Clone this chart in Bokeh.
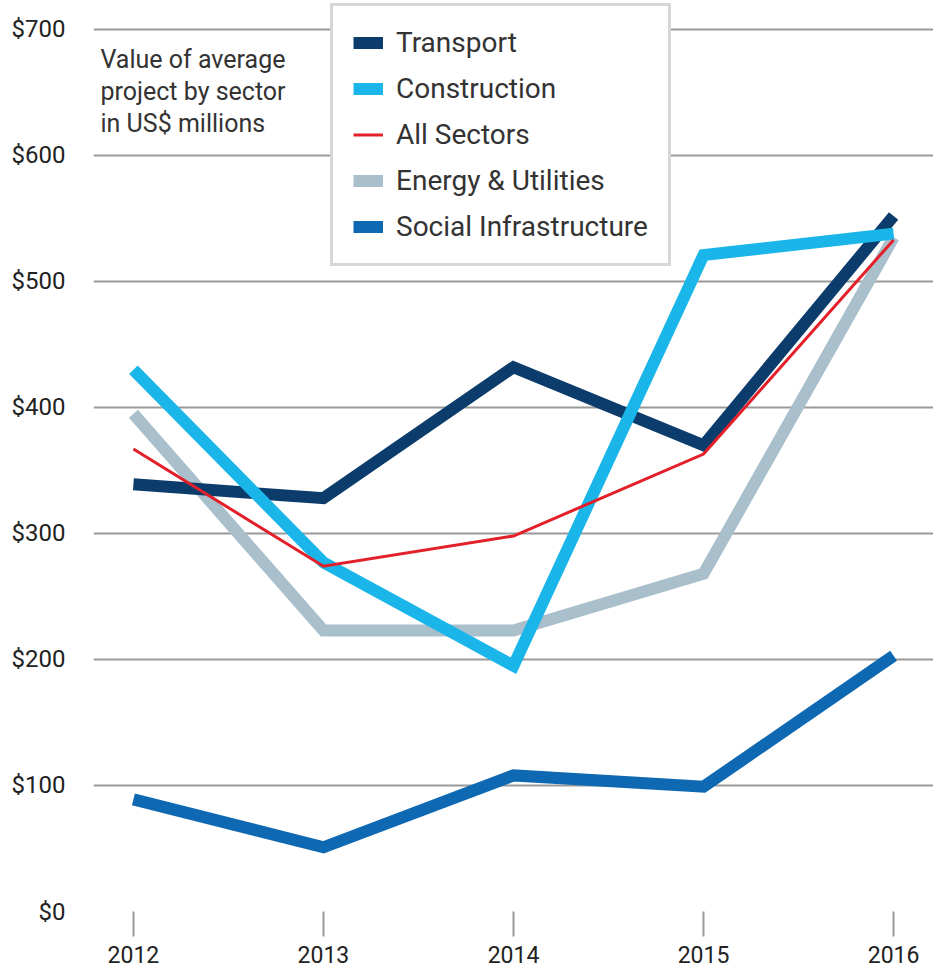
from bokeh.plotting import figure
from bokeh.models import Legend, LegendItem, Label, FixedTicker, Range1d, CustomJSTickFormatter
from bokeh.embed import file_html
from bokeh.resources import INLINE

years = [2012, 2013, 2014, 2015, 2016]
transport = [339, 328, 432, 370, 552]
construction = [430, 277, 195, 521, 538]
all_sectors = [367, 274, 298, 363, 533]
energy = [395, 223, 223, 268, 535]
social = [89, 51, 108, 99, 203]
y_ticks = [0, 100, 200, 300, 400, 500, 600, 700]
note_lines = ["Value of average", "project by sector", "in US$ millions"]

FONT = "Roboto"

p = figure(width=933, height=974, output_backend="svg", toolbar_location=None,
           x_range=Range1d(2011.79, 2016.21), y_range=Range1d(0, 723),
           min_border_left=93, min_border_right=0, min_border_top=0, min_border_bottom=63)
p.outline_line_color = None
p.background_fill_color = "white"
p.border_fill_color = "white"

series = [
    ("Energy & Utilities", energy, "#a9bfcc", 12),
    ("Social Infrastructure", social, "#0f69b2", 12),
    ("Transport", transport, "#0c3c6c", 12),
    ("Construction", construction, "#1bb6e9", 12),
    ("All Sectors", all_sectors, "#e3202a", 3),
]
rends = {}
for name, vals, col, w in series:
    rends[name] = p.line(years, vals, line_color=col, line_width=w, line_cap="butt", line_join="miter")

# axes
p.xaxis.ticker = FixedTicker(ticks=years)
p.xaxis.axis_line_color = None
p.xaxis.major_tick_out = 25
p.xaxis.major_tick_in = 0
p.xaxis.major_tick_line_color = "#9a9a9a"
p.xaxis.major_tick_line_width = 2
p.xaxis.minor_tick_line_color = None
p.xaxis.major_label_standoff = 9
p.xaxis.major_label_text_font = FONT
p.xaxis.major_label_text_font_size = "23px"
p.xaxis.major_label_text_color = "#222222"

p.yaxis.ticker = FixedTicker(ticks=y_ticks)
p.yaxis.formatter = CustomJSTickFormatter(code="return '$' + tick;")
p.yaxis.axis_line_color = None
p.yaxis.major_tick_line_color = None
p.yaxis.minor_tick_line_color = None
p.yaxis.major_label_standoff = 22
p.yaxis.major_label_text_font = FONT
p.yaxis.major_label_text_font_size = "24px"
p.yaxis.major_label_text_color = "#222222"

p.xgrid.grid_line_color = None
p.ygrid.ticker = FixedTicker(ticks=y_ticks)
p.ygrid.grid_line_color = "#9a9a9a"
p.ygrid.grid_line_width = 2

# note text
for i, t in enumerate(note_lines):
    p.add_layout(Label(x=7, y=852 - i * 32, x_units="screen", y_units="screen", text=t,
                       text_baseline="alphabetic",
                       text_font=FONT, text_font_size="25px", text_color="#333333"))

order = ["Transport", "Construction", "All Sectors", "Energy & Utilities", "Social Infrastructure"]
legend = Legend(items=[LegendItem(label=n, renderers=[rends[n]]) for n in order],
                location=(237, 645), orientation="vertical",
                border_line_color="#b0b0b0", border_line_width=3,
                background_fill_color="white", background_fill_alpha=1.0,
                padding=20, spacing=13, margin=0,
                glyph_width=30, glyph_height=33, label_height=33, label_standoff=13,
                label_text_font=FONT, label_text_font_size="28px", label_text_color="#333333")
p.add_layout(legend, "center")

open("out.html", "w").write(file_html(p, INLINE))
